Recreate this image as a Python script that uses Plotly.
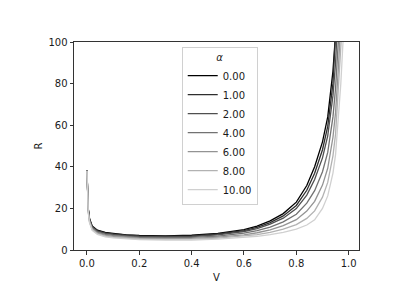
import plotly.graph_objects as go

V = [0, 0.005, 0.01, 0.02, 0.04, 0.07, 0.1, 0.15, 0.2, 0.3, 0.4, 0.5, 0.6, 0.65,
     0.7, 0.75, 0.8, 0.84, 0.87, 0.9, 0.92, 0.94, 0.95, 0.96, 0.97, 0.98]

alphas = ["0.00", "1.00", "2.00", "4.00", "6.00", "8.00", "10.00"]

R_a0 = [38.5, 20, 15, 11.5, 9.5, 8.5, 8.0, 7.3, 7.0, 6.8, 7.1, 8.0, 9.8, 11.5,
        14, 17.5, 23, 31, 40, 52, 64, 86, 104, 130, 150, 190]
R_a1 = [38.4, 19.8, 14.8, 11.3, 9.3, 8.2, 7.7, 7.1, 6.8, 6.6, 6.8, 7.7, 9.3, 10.9,
        13.2, 16.4, 21.4, 28.7, 36.9, 48.2, 59.4, 80.1, 97.0, 121.8, 141.6, 179.7]
R_a2 = [38.4, 19.5, 14.5, 11.0, 9.0, 8.0, 7.5, 6.8, 6.5, 6.3, 6.5, 7.3, 8.9, 10.3,
        12.4, 15.3, 19.9, 26.4, 33.9, 44.3, 54.9, 74.2, 90.1, 113.7, 133.2, 169.4]
R_a4 = [38.3, 19.1, 14.1, 10.6, 8.6, 7.5, 7.0, 6.4, 6.1, 5.9, 6.1, 6.7, 8.1, 9.3,
        11.0, 13.5, 17.2, 22.5, 28.5, 37.6, 46.9, 64.0, 77.9, 99.4, 118.5, 151.3]
R_a6 = [38.2, 18.7, 13.7, 10.2, 8.2, 7.1, 6.6, 6.0, 5.7, 5.5, 5.6, 6.2, 7.3, 8.3,
        9.7, 11.7, 14.6, 18.7, 23.4, 31.2, 39.3, 54.2, 66.3, 85.8, 104.5, 134.1]
R_a8 = [38.1, 18.3, 13.3, 9.8, 7.8, 6.7, 6.2, 5.6, 5.3, 5.1, 5.2, 5.7, 6.6, 7.4,
        8.5, 10.0, 12.2, 15.2, 18.8, 25.4, 32.5, 45.3, 55.9, 73.6, 91.9, 118.6]
R_a10 = [38.0, 18, 13, 9.5, 7.5, 6.3, 5.8, 5.3, 5.0, 4.8, 4.8, 5.2, 6.0, 6.6,
         7.4, 8.5, 10, 12, 14.5, 20, 26, 37, 46, 62, 80, 104]

series = [R_a0, R_a1, R_a2, R_a4, R_a6, R_a8, R_a10]
colors = ["#000000", "#2e2e2e", "#4f4f4f", "#727272", "#939393", "#b2b2b2", "#d0d0d0"]

x_ticks = [0.0, 0.2, 0.4, 0.6, 0.8, 1.0]
y_ticks = [0, 20, 40, 60, 80, 100]

fig = go.Figure()
for name, r, c in zip(alphas, series, colors):
    fig.add_trace(go.Scatter(x=V, y=r, mode="lines", name=name,
                             line=dict(color=c, width=1.3)))

axis_common = dict(showline=True, linecolor="#333333", linewidth=1, mirror=True,
                   ticks="outside", ticklen=3.5, tickwidth=1, tickcolor="#333333",
                   showgrid=False, zeroline=False,
                   tickfont=dict(family="DejaVu Sans", size=10, color="#1a1a1a"))

fig.update_layout(
    width=407, height=286,
    margin=dict(l=66, r=56, t=34, b=40),
    paper_bgcolor="white", plot_bgcolor="white",
    font=dict(family="DejaVu Sans", size=10, color="#1a1a1a"),
    xaxis=dict(range=[-0.0495, 1.0395], tickvals=x_ticks,
               ticktext=[f"{t:.1f}" for t in x_ticks],
               title=dict(text="V", standoff=6, font=dict(size=10)), **axis_common),
    yaxis=dict(range=[0, 100], tickvals=y_ticks,
               ticktext=[str(t) for t in y_ticks],
               title=dict(text="R", standoff=3, font=dict(size=10)), **axis_common),
    legend=dict(x=0.378, y=0.975, xanchor="left", yanchor="top",
                bgcolor="rgba(255,255,255,0.85)", bordercolor="#d0d0d0", borderwidth=1,
                font=dict(family="DejaVu Sans", size=10, color="#1a1a1a"),
                title=dict(text="<i>α</i>", side="top center",
                           font=dict(family="DejaVu Sans", size=10))),
    showlegend=True,
)

fig.write_html("out.html", config={"displayModeBar": False})
